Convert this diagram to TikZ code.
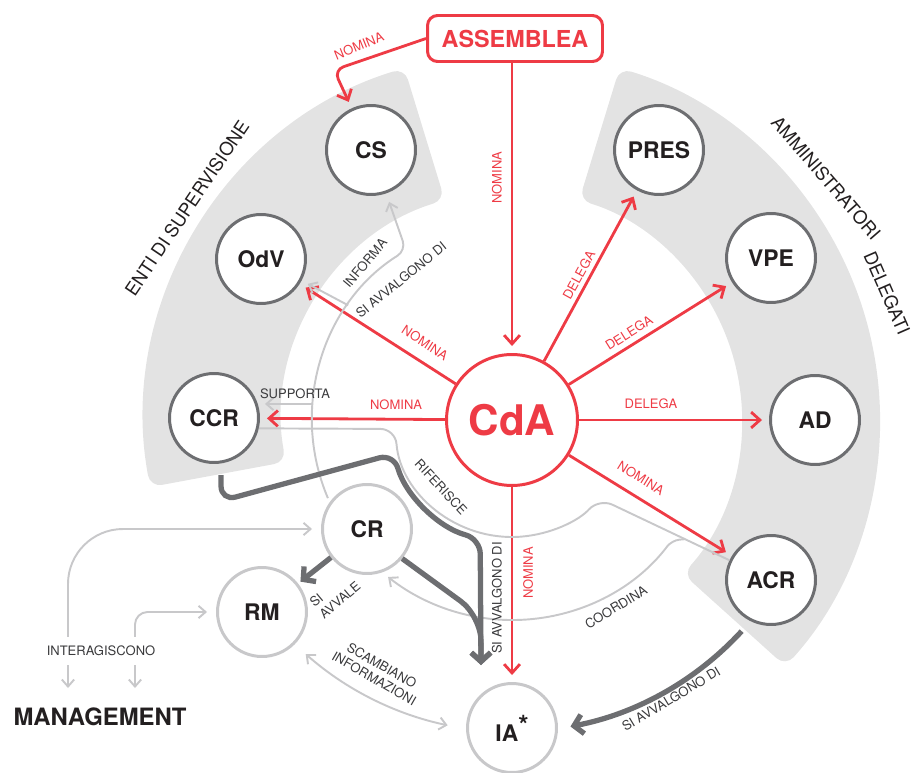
\documentclass[tikz,border=0pt]{standalone}
\usepackage{fontspec}
\setmainfont{TeX Gyre Heros}
\usetikzlibrary{arrows.meta, calc}
\definecolor{cRed}{HTML}{EE3B45}
\definecolor{cDark}{HTML}{6D6E71}
\definecolor{cLight}{HTML}{C8C8CA}
\definecolor{cBand}{HTML}{E3E3E3}
\definecolor{cInk}{HTML}{231F20}
\definecolor{cLbl}{HTML}{3A3A3C}

\begin{document}
\begin{tikzpicture}[
    x=0.02cm, y=0.02cm, font=\fontsize{7.4}{8.6}\selectfont,
    sat/.style={circle, draw=cDark, line width=1.7pt, fill=white, inner sep=0pt,
                minimum size=1.78cm, text=cInk,
                font=\fontsize{13}{15}\selectfont\bfseries},
    aux/.style={sat, draw=cLight},
    hub/.style={circle, draw=cRed, line width=1.7pt, fill=white, inner sep=0pt,
                minimum size=2.62cm, text=cRed,
                font=\fontsize{24}{28}\selectfont\bfseries},
    bandfill/.style={fill=cBand, rounded corners=0.24cm},
    rarr/.style={-{Straight Barb[length=5pt, width=9pt]}, line width=1.6pt,
                 draw=cRed, shorten >=0.14cm},
    darr/.style={-{Straight Barb[length=5pt, width=11pt]}, line width=3pt,
                 draw=cDark},
    garr/.style={-{Straight Barb[length=4pt, width=7pt]}, line width=1.1pt,
                 draw=cLight},
    gboth/.style={garr, {Straight Barb[length=4pt, width=7pt]}-{Straight Barb[length=4pt, width=7pt]}},
    gline/.style={line width=1.1pt, draw=cLight},
    rlbl/.style={text=cRed, inner sep=0.3pt},
    glbl/.style={text=cLbl, inner sep=0.3pt, align=center},
    grp/.style={text=cInk, inner sep=0pt, font=\fontsize{10.4}{12}\selectfont},
]
\useasboundingbox (0,0) rectangle (911,772);
\coordinate (C) at (512,352);

% ===================== Fasce dei gruppi =====================
\fill[bandfill] ($(C)+(107:230)$) arc[start angle=107, end angle=190.5, radius=230]
      -- ($(C)+(190.5:368)$) arc[start angle=190.5, end angle=107, radius=368] -- cycle;
\fill[bandfill] ($(C)+(-42:230)$) arc[start angle=-42, end angle=73, radius=230]
      -- ($(C)+(73:368)$) arc[start angle=73, end angle=-42, radius=368] -- cycle;
\node[grp, rotate=56] (tEnti) at (187,564) {ENTI DI SUPERVISIONE};
\node[grp, rotate=-49] (tAmm) at (826,594) {AMMINISTRATORI};
\node[grp, rotate=-66.4] (tDel) at (887,479) {DELEGATI};

% ===================== Organi =====================
\node[hub] (CdA) at (C) {CdA};
\node[sat] (CS) at (371,622) {CS};
\node[sat] (OdV) at (261,513) {OdV};
\node[sat] (CCR) at (214,354) {CCR};
\node[sat] (PRES) at (659,622) {PRES};
\node[sat] (VPE) at (771,514) {VPE};
\node[sat] (AD) at (815,352) {AD};
\node[sat] (ACR) at (771,192) {ACR};
\node[aux] (CR) at (367,243) {CR};
\node[aux] (RM) at (262,160) {RM};
\node[aux] (IA) at (512,44) {IA\raisebox{0.3em}{\fontsize{15}{15}\selectfont *}};
\node[draw=cRed, line width=1.7pt, rounded corners=0.2cm, fill=white, text=cRed,
      minimum width=3.5cm, minimum height=0.92cm,
      font=\fontsize{13.3}{15}\selectfont\bfseries] (ASS) at (515,733.5) {ASSEMBLEA};
\node[text=cInk, font=\fontsize{13.6}{16}\selectfont\bfseries] (MAN) at (100,55) {MANAGEMENT};

% ===================== Nomine e deleghe =====================
\draw[rarr] (CdA |- ASS.south) -- (CdA);
\draw[rarr, rounded corners=0.2cm] (ASS.west) -- (334,702) -- (CS);
\draw[rarr] (CdA) -- (OdV);
\draw[rarr] (CdA) -- (CCR);
\draw[rarr] (CdA) -- (PRES);
\draw[rarr] (CdA) -- (VPE);
\draw[rarr] (CdA) -- (AD);
\draw[rarr] (CdA) -- (ACR);
\draw[rarr] (CdA) -- (IA);

\node[rlbl, rotate=22] (lNomCS) at (359,726) {NOMINA};
\node[rlbl, rotate=90] (lNomCdA) at (497,594) {NOMINA};
\node[rlbl, rotate=-33] (lNomOdV) at (425,429) {NOMINA};
\node[rlbl] (lNomCCR) at (396,367.5) {NOMINA};
\node[rlbl, rotate=61] (lDelPRES) at (579,497) {DELEGA};
\node[rlbl, rotate=32] (lDelVPE) at (629,439) {DELEGA};
\node[rlbl] (lDelAD) at (651,368) {DELEGA};
\node[rlbl, rotate=-31.7] (lNomACR) at (641,294) {NOMINA};
\node[rlbl, rotate=90] (lNomIA) at (528,199) {NOMINA};

% ===================== Anello dei flussi informativi =====================
\coordinate (rgCR) at ($(C)+(203:200)$);
\coordinate (rgOdV) at ($(C)+(145:200)$);
\coordinate (rgSup) at ($(C)+(175.4:200)$);
\draw[garr, rounded corners=0.2cm, shorten >=0.18cm] (rgCR)
      arc[start angle=203, end angle=122, radius=200] -- (CS);
\draw[garr, shorten >=0.14cm] (rgOdV) -- (OdV);
\draw[garr, shorten >=0.1cm] (rgSup) -- (rgSup -| CCR.east);
\node[glbl, rotate=50] (lInf) at (365,509) {INFORMA};
\node[glbl, rotate=39] (lAvv1) at (401,492) {SI AVVALGONO DI};
\node[glbl] (lSup) at (295,378.5) {SUPPORTA};

% RIFERISCE e COORDINA
\draw[gline, rounded corners=0.3cm] (CCR.-13) -- ($(C)+(184.4:117)$)
      arc[start angle=184.4, end angle=318, radius=117] coordinate (rfA) -- (ACR);
\coordinate (mrg) at ($(rfA)!0.5!(ACR)$);
\draw[garr, rounded corners=0.15cm] (mrg) -- ($(C)+(-37:200)$)
      arc[start angle=-37, end angle=-128.3, radius=200];
\node[glbl, rotate=-47] (lRif) at (441,285) {RIFERISCE};
\node[glbl, rotate=31] (lCoo) at (616,165) {COORDINA};

% ===================== Supporto della funzione IA =====================
\coordinate (entiOut) at (221,297);
\coordinate (iaIn) at (481,107);
\coordinate (acrOut) at ($(C)+(-42.6:312)$);
\draw[darr, rounded corners=0.3cm] (entiOut) -- (221,271) -- ($(C)+(196:123)$)
      arc[start angle=196, end angle=255, radius=123] -- (iaIn);
\draw[darr, rounded corners=0.5cm] (CR.-40) -- (481,156) -- (iaIn);
\draw[darr, shorten >=0.06cm] (CR) -- (RM);
\draw[darr] (acrOut) arc[start angle=-42.6, end angle=-79.2, radius=312];
\node[glbl, rotate=90] (lAvv2) at (497,174) {SI AVVALGONO DI};
\node[glbl, rotate=31] (lAvv3) at (671,73) {SI AVVALGONO DI};
\node[glbl, rotate=40, align=left] (lAvvale) at (335,178) {SI\\AVVALE};

% ===================== Management =====================
\coordinate (mgL) at (68,84);
\coordinate (mgR) at (135,84);
\draw[gboth, rounded corners=1.1cm, shorten >=0.18cm] (mgL) |- (CR);
\draw[gboth, rounded corners=0.25cm, shorten >=0.18cm] (mgR) |- (RM);
\node[glbl, fill=white, inner sep=5pt] (lInt) at (101,121) {INTERAGISCONO};
\draw[gboth] ($(C)+(228.6:312)$) arc[start angle=228.6, end angle=258.1, radius=312];
\node[glbl, rotate=-30] (lSca) at (378,100) {SCAMBIANO\\INFORMAZIONI};

\end{tikzpicture}
\end{document}
